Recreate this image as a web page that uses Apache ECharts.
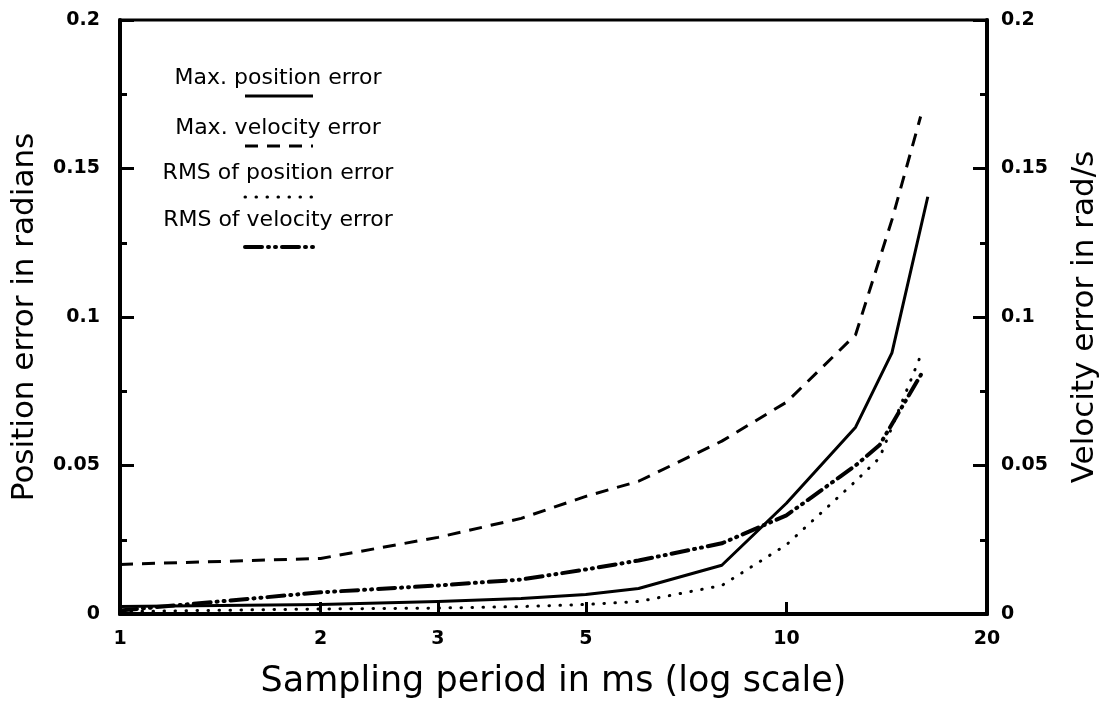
<!DOCTYPE html>
<html>
<head>
<meta charset="utf-8">
<script src="https://cdn.jsdelivr.net/npm/echarts@6/dist/echarts.min.js"></script>
<style>
  html, body { margin: 0; padding: 0; background: #fff; }
  #chart { width: 1111px; height: 704px; }
</style>
</head>
<body>
<div id="chart"></div>
<script>
// Error versus sampling period: [period in ms, error]
const maxPosition = [[1, 0.0025], [2, 0.0032], [3, 0.0042], [4, 0.0052], [5, 0.0066], [6, 0.0086], [8, 0.0164], [10, 0.0373], [12.7, 0.0629], [14.4, 0.0879], [16.3, 0.1405]];
const maxVelocity = [[1, 0.0167], [2, 0.0187], [3, 0.0258], [4, 0.0322], [5, 0.0396], [6, 0.0447], [8, 0.0582], [10, 0.0713], [12.7, 0.094], [14.4, 0.1327], [15.9, 0.1675]];
const rmsPosition = [[1, 0.0008], [2, 0.0017], [3, 0.002], [4, 0.0025], [5, 0.0032], [6, 0.0042], [8, 0.0096], [10, 0.0233], [12.7, 0.0447], [13.8, 0.0526], [16, 0.0885]];
const rmsVelocity = [[1, 0.0012], [2, 0.0073], [3, 0.0096], [4, 0.0116], [5, 0.015], [6, 0.018], [8, 0.0238], [10, 0.0332], [12.7, 0.050], [13.8, 0.0569], [16, 0.0814]];

const seriesNames = ['Max. position error', 'Max. velocity error', 'RMS of position error', 'RMS of velocity error'];
const periodTicks = [1, 2, 3, 5, 10, 20];
const periodInnerTicks = [2, 3, 5, 10];

const FONT = 'DejaVu Sans';
const INK = '#000';

// line styles per series: solid, dashed, dotted, dash-dot-dot
const strokes = [
  { width: 3, type: 'solid', cap: 'butt' },
  { width: 3, type: [13, 9], cap: 'butt' },
  { width: 3, type: [0.5, 10.5], cap: 'round' },
  { width: 4, type: [17, 6, 1, 6, 1, 6], cap: 'round' }
];
const seriesData = [maxPosition, maxVelocity, rmsPosition, rmsVelocity];
const yAxisOf = [0, 1, 0, 1];

const chart = echarts.init(document.getElementById('chart'), null, { renderer: 'canvas' });

const yAxisBase = (side, name, gap, margin) => ({
  type: 'value',
  position: side,
  min: 0,
  max: 0.2,
  interval: 0.05,
  name: name,
  nameLocation: 'middle',
  nameGap: gap,
  nameRotate: 90,
  nameTextStyle: { fontFamily: FONT, fontSize: 31, color: INK },
  axisLine: { show: true, lineStyle: { color: INK, width: 4 } },
  axisTick: { show: true, inside: true, length: 14, lineStyle: { color: INK, width: 3 } },
  minorTick: { show: true, splitNumber: 2, length: 7, lineStyle: { color: INK, width: 3 } },
  axisLabel: { margin: margin, fontFamily: FONT, fontSize: 19, fontWeight: 'bold', color: INK },
  splitLine: { show: false },
  minorSplitLine: { show: false }
});

// legend drawn as caption text with a sample stroke beneath it
const legendGraphics = [];
const legendTextY = [78, 128, 173, 220];
const legendLineY = [96, 146, 197, 247];
seriesNames.forEach((name, i) => {
  legendGraphics.push({
    type: 'text',
    x: 278, y: legendTextY[i],
    style: { text: name, fill: INK, font: '22px "' + FONT + '"', textAlign: 'center', textVerticalAlign: 'middle' }
  });
  legendGraphics.push({
    type: 'line',
    shape: { x1: 245, y1: legendLineY[i], x2: 313, y2: legendLineY[i] },
    style: { stroke: INK, lineWidth: strokes[i].width, lineDash: Array.isArray(strokes[i].type) ? strokes[i].type : null, lineCap: strokes[i].cap }
  });
});

const option = {
  backgroundColor: '#fff',
  animation: false,
  textStyle: { fontFamily: FONT, color: INK },
  grid: { left: 120, right: 124, top: 20, bottom: 90, show: true, borderColor: INK, borderWidth: 3, backgroundColor: 'transparent' },
  xAxis: [
    {
      type: 'log',
      logBase: 10,
      min: 1,
      max: 20,
      position: 'bottom',
      axisLine: { show: true, lineStyle: { color: INK, width: 4 } },
      axisTick: { show: false },
      axisLabel: { show: false },
      splitLine: { show: false }
    },
    {
      // tick marks and labels at chosen periods, placed on the same log scale
      type: 'value',
      min: 0,
      max: Math.log10(20),
      position: 'bottom',
      name: 'Sampling period in ms (log scale)',
      nameLocation: 'middle',
      nameGap: 50,
      nameTextStyle: { fontFamily: FONT, fontSize: 35, color: INK },
      axisLine: { show: false },
      axisTick: { show: true, inside: true, length: 12, lineStyle: { color: INK, width: 3 }, customValues: periodInnerTicks.map(v => Math.log10(v)) },
      axisLabel: {
        margin: 16, fontFamily: FONT, fontSize: 19, fontWeight: 'bold', color: INK,
        customValues: periodTicks.map(v => Math.log10(v)),
        formatter: v => String(Math.round(Math.pow(10, v)))
      },
      splitLine: { show: false }
    }
  ],
  yAxis: [
    yAxisBase('left', 'Position error in radians', 80, 20),
    yAxisBase('right', 'Velocity error in rad/s', 82, 14)
  ],
  series: seriesNames.map((name, i) => ({
    name: name,
    type: 'line',
    xAxisIndex: 0,
    yAxisIndex: yAxisOf[i],
    data: seriesData[i],
    symbol: 'none',
    smooth: false,
    lineStyle: { color: INK, width: strokes[i].width, type: strokes[i].type, cap: strokes[i].cap, join: 'round' },
    z: 3
  })),
  graphic: legendGraphics
};

chart.setOption(option);
</script>
</body>
</html>
